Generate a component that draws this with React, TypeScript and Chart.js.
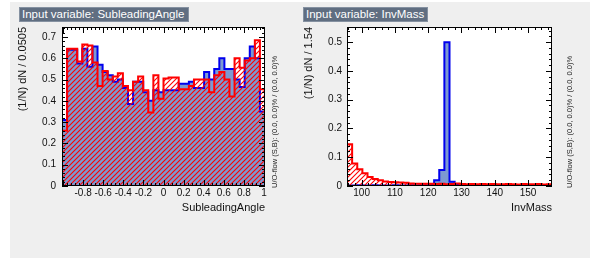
import React, { useEffect, useRef } from "react";
import { Chart, registerables } from "chart.js";
Chart.register(...registerables);

// ---------- data ----------
const angleRange = [-1.01, 1.01];
const angleSignal = [
  0.31, 0.64, 0.64, 0.575, 0.645, 0.56, 0.655, 0.57, 0.535, 0.52,
  0.49, 0.5, 0.46, 0.385, 0.49, 0.49, 0.44, 0.4, 0.45, 0.44,
  0.45, 0.45, 0.45, 0.48, 0.48, 0.49, 0.46, 0.46, 0.535, 0.5,
  0.55, 0.6, 0.55, 0.55, 0.5, 0.465, 0.6, 0.655, 0.6, 0.35,
];
const angleBackground = [
  0.26, 0.645, 0.645, 0.585, 0.665, 0.66, 0.58, 0.47, 0.54, 0.5,
  0.515, 0.53, 0.47, 0.45, 0.49, 0.515, 0.45, 0.345, 0.52, 0.41,
  0.505, 0.51, 0.51, 0.455, 0.455, 0.47, 0.5, 0.5, 0.5, 0.44,
  0.52, 0.535, 0.5, 0.42, 0.6, 0.555, 0.59, 0.6, 0.685, 0.455,
];
const angleXTicks = [-0.8, -0.6, -0.4, -0.2, 0, 0.2, 0.4, 0.6, 0.8, 1];
const angleXTickLabels = ["-0.8", "-0.6", "-0.4", "-0.2", "0", "0.2", "0.4", "0.6", "0.8", "1"];
const angleYTicks = [0, 0.1, 0.2, 0.3, 0.4, 0.5, 0.6, 0.7];
const angleYTickLabels = ["0", "0.1", "0.2", "0.3", "0.4", "0.5", "0.6", "0.7"];
const angleYMax = 0.747;

const massRange = [95.6, 157.2];
const massSignal = [
  0.002, 0.002, 0.003, 0.002, 0.002, 0.003, 0.002, 0.002, 0.002, 0.003,
  0.002, 0.002, 0.003, 0.002, 0.003, 0.003, 0.004, 0.02, 0.056, 0.5,
  0.015, 0.004, 0.002, 0.002, 0.001, 0.002, 0.002, 0.001, 0.002, 0.002,
  0.001, 0.002, 0.002, 0.001, 0.002, 0.001, 0.002, 0.001, 0.002, 0.001,
];
const massBackground = [
  0.145, 0.078, 0.058, 0.044, 0.031, 0.024, 0.02, 0.016, 0.014, 0.013,
  0.012, 0.011, 0.009, 0.008, 0.008, 0.008, 0.008, 0.007, 0.008, 0.006,
  0.007, 0.009, 0.007, 0.006, 0.007, 0.006, 0.007, 0.006, 0.007, 0.006,
  0.006, 0.007, 0.006, 0.005, 0.007, 0.006, 0.006, 0.007, 0.005, 0.006,
];
const massXTicks = [100, 110, 120, 130, 140, 150];
const massXTickLabels = ["100", "110", "120", "130", "140", "150"];
const massYTicks = [0, 0.1, 0.2, 0.3, 0.4, 0.5];
const massYTickLabels = ["0", "0.1", "0.2", "0.3", "0.4", "0.5"];
const massYMax = 0.553;

// ---------- helpers ----------
const FONT = "'Liberation Sans', Arial, Helvetica, sans-serif";

function stepPoints(values: number[], min: number, max: number) {
  const w = (max - min) / values.length;
  const pts: { x: number; y: number }[] = [{ x: min, y: 0 }];
  values.forEach((v, i) => pts.push({ x: min + i * w, y: v }));
  pts.push({ x: max, y: values[values.length - 1] });
  pts.push({ x: max, y: 0 });
  return pts;
}

function makeHatch() {
  const s = 5;
  const c = document.createElement("canvas");
  c.width = s;
  c.height = s;
  const g = c.getContext("2d")!;
  g.strokeStyle = "#ff0000";
  g.lineWidth = 1.1;
  g.beginPath();
  g.moveTo(0, s);
  g.lineTo(s, 0);
  g.moveTo(-1, 1);
  g.lineTo(1, -1);
  g.moveTo(s - 1, s + 1);
  g.lineTo(s + 1, s - 1);
  g.stroke();
  return g.createPattern(c, "repeat");
}

const rootFrame = {
  id: "rootFrame",
  beforeDraw(chart: any) {
    const { ctx, chartArea: a } = chart;
    ctx.save();
    ctx.fillStyle = "#ffffff";
    ctx.fillRect(a.left, a.top, a.right - a.left, a.bottom - a.top);
    ctx.restore();
  },
  afterDatasetsDraw(chart: any, _args: any, opts: any) {
    const { ctx, chartArea: a, scales } = chart;
    const xs = scales.x;
    const ys = scales.y;
    ctx.save();
    ctx.strokeStyle = "#000";
    ctx.lineWidth = 1;
    ctx.beginPath();
    const drawAxis = (scale: any, minor: number, ratio: number, horizontal: boolean) => {
      const k0 = Math.ceil(scale.min / minor - 1e-6);
      for (let k = k0; k * minor <= scale.max + 1e-9; k++) {
        const v = k * minor;
        const major = ((k % ratio) + ratio) % ratio === 0;
        const len = major ? opts.majorLen : opts.minorLen;
        const p = Math.round(scale.getPixelForValue(v)) + 0.5;
        if (horizontal) {
          ctx.moveTo(p, a.bottom);
          ctx.lineTo(p, a.bottom - len);
          ctx.moveTo(p, a.top);
          ctx.lineTo(p, a.top + len);
        } else {
          ctx.moveTo(a.left, p);
          ctx.lineTo(a.left + len, p);
          ctx.moveTo(a.right, p);
          ctx.lineTo(a.right - len, p);
        }
      }
    };
    drawAxis(xs, opts.xMinor, opts.xRatio, true);
    drawAxis(ys, opts.yMinor, opts.yRatio, false);
    ctx.stroke();
    ctx.strokeRect(
      Math.round(a.left) + 0.5,
      Math.round(a.top) + 0.5,
      Math.round(a.right - a.left) - 1,
      Math.round(a.bottom - a.top) - 1
    );
    ctx.restore();
  },
};

function makeConfig(p: any) {
  return {
    type: "line",
    data: {
      datasets: [
        {
          label: "Signal",
          data: stepPoints(p.signal, p.xMin, p.xMax),
          stepped: true,
          borderColor: "#0000ee",
          borderWidth: 2,
          backgroundColor: "#7d99d1",
          fill: "origin",
          pointRadius: 0,
          order: 2,
        },
        {
          label: "Background",
          data: stepPoints(p.background, p.xMin, p.xMax),
          stepped: true,
          borderColor: "#ff0000",
          borderWidth: 2,
          backgroundColor: p.hatch,
          fill: "origin",
          pointRadius: 0,
          order: 1,
        },
      ],
    },
    options: {
      responsive: false,
      animation: false,
      events: [],
      layout: { padding: { left: 0, top: 27, right: p.padRight, bottom: 0 } },
      plugins: {
        legend: { display: false },
        tooltip: { enabled: false },
        rootFrame: {
          xMinor: p.xMinor,
          xRatio: 5,
          yMinor: 0.02,
          yRatio: 5,
          majorLen: 6,
          minorLen: 3,
        },
      },
      scales: {
        x: {
          type: "linear",
          min: p.xMin,
          max: p.xMax,
          grid: { display: false, drawTicks: false },
          border: { display: false },
          afterBuildTicks: (s: any) => {
            s.ticks = p.xTicks.map((v: number) => ({ value: v }));
          },
          afterFit: (s: any) => {
            s.height = 72;
          },
          ticks: {
            callback: (_v: any, i: number) => p.xTickLabels[i],
            padding: 1,
            maxRotation: 0,
            autoSkip: false,
            color: "#111",
            font: { family: FONT, size: 10 },
          },
          title: {
            display: true,
            text: p.xTitle,
            align: "end",
            color: "#111",
            font: { family: FONT, size: 11 },
            padding: { top: 0, bottom: 43 },
          },
        },
        y: {
          type: "linear",
          min: 0,
          max: p.yMax,
          grid: { display: false, drawTicks: false },
          border: { display: false },
          afterBuildTicks: (s: any) => {
            s.ticks = p.yTicks.map((v: number) => ({ value: v }));
          },
          afterFit: (s: any) => {
            s.width = 52;
          },
          ticks: {
            callback: (_v: any, i: number) => p.yTickLabels[i],
            padding: p.yPad,
            autoSkip: false,
            color: "#111",
            font: { family: FONT, size: 10 },
          },
          title: {
            display: true,
            text: p.yTitle,
            align: "end",
            color: "#111",
            font: { family: FONT, size: 11 },
            padding: { top: p.yTitlePad, bottom: 0 },
          },
        },
      },
    },
    plugins: [rootFrame],
  };
}

const titleBox = (left: number, width: number, text: string) => (
  <div
    style={{
      position: "absolute",
      left,
      top: 7,
      width,
      height: 15,
      boxSizing: "border-box",
      background: "#606e81",
      border: "1px solid #8591a1",
      color: "#fff",
      fontFamily: FONT,
      fontSize: 11.5,
      lineHeight: "13px",
      paddingLeft: 2,
      whiteSpace: "nowrap",
    }}
  >
    {text}
  </div>
);

const sideText = (left: number, text: string) => (
  <div
    style={{
      position: "absolute",
      left,
      top: 188,
      transform: "rotate(-90deg)",
      transformOrigin: "0 0",
      whiteSpace: "nowrap",
      fontFamily: FONT,
      fontSize: 7.5,
      lineHeight: "8px",
      color: "#222",
    }}
  >
    {text}
  </div>
);

export default function App() {
  const c1 = useRef<HTMLCanvasElement>(null);
  const c2 = useRef<HTMLCanvasElement>(null);

  useEffect(() => {
    const hatch = makeHatch();
    const ch1 = new Chart(
      c1.current!,
      makeConfig({
        signal: angleSignal,
        background: angleBackground,
        xMin: angleRange[0],
        xMax: angleRange[1],
        xTicks: angleXTicks,
        xTickLabels: angleXTickLabels,
        yTicks: angleYTicks,
        yTickLabels: angleYTickLabels,
        yMax: angleYMax,
        xMinor: 0.04,
        padRight: 30,
        yPad: 6,
        yTitlePad: 6,
        xTitle: "SubleadingAngle",
        yTitle: "(1/N) dN / 0.0505",
        hatch,
      }) as any
    );
    const ch2 = new Chart(
      c2.current!,
      makeConfig({
        signal: massSignal,
        background: massBackground,
        xMin: massRange[0],
        xMax: massRange[1],
        xTicks: massXTicks,
        xTickLabels: massXTickLabels,
        yTicks: massYTicks,
        yTickLabels: massYTickLabels,
        yMax: massYMax,
        xMinor: 2,
        padRight: 38,
        yPad: 5,
        yTitlePad: 7,
        xTitle: "InvMass",
        yTitle: "(1/N) dN / 1.54",
        hatch,
      }) as any
    );
    return () => {
      ch1.destroy();
      ch2.destroy();
    };
  }, []);

  return (
    <div
      style={{
        position: "fixed",
        left: 0,
        top: 0,
        width: 590,
        height: 261,
        background: "#fff",
        overflow: "hidden",
      }}
    >
      <div style={{ position: "absolute", left: 10, top: 2, width: 580, height: 256, background: "#efefef" }} />
      <canvas ref={c1} width={285} height={258} style={{ position: "absolute", left: 10, top: 0 }} />
      <canvas ref={c2} width={295} height={258} style={{ position: "absolute", left: 295, top: 0 }} />
      {titleBox(19, 170, "Input variable: SubleadingAngle")}
      {titleBox(303, 125, "Input variable: InvMass")}
      {sideText(271, "U/O-flow (S,B): (0.0, 0.0)% / (0.0, 0.0)%")}
      {sideText(566, "U/O-flow (S,B): (0.0, 0.0)% / (0.0, 0.0)%")}
    </div>
  );
}
